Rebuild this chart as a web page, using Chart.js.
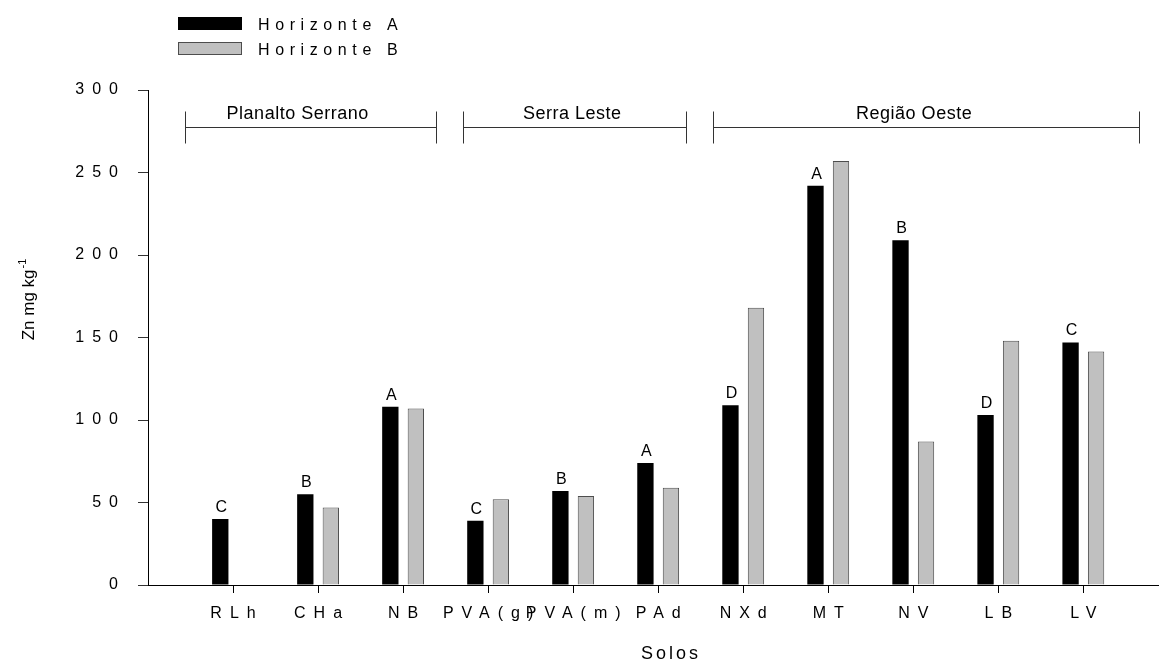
<!DOCTYPE html>
<html lang="pt">
<head>
<meta charset="UTF-8">
<title>Zn por solo e horizonte</title>
<style>
    body { margin: 0; background: #ffffff; overflow: hidden; }
    #wrap { width: 1159px; height: 665px; position: relative; }
</style>
</head>
<body>
<div id="wrap"><canvas id="chart"></canvas></div>

<script src="https://cdn.jsdelivr.net/npm/chart.js"></script>
<script>
// dados
const solos = ['RLh', 'CHa', 'NB', 'PVA(g)', 'PVA(m)', 'PAd', 'NXd', 'MT', 'NV', 'LB', 'LV'];
const horizonteA = [40, 55, 108, 39, 57, 74, 109, 242, 209, 103, 147];
const horizonteB = [null, 47, 107, 52, 54, 59, 168, 257, 87, 148, 141.5];
const letrasA = ['C', 'B', 'A', 'C', 'B', 'A', 'D', 'A', 'B', 'D', 'C'];
const yTicks = [0, 50, 100, 150, 200, 250, 300];
const regioes = ['Planalto Serrano', 'Serra Leste', 'Região Oeste'];

const FONT = '"Liberation Sans", Arial, Helvetica, sans-serif';

// chaves das regioes: [inicio, fim, centro do texto] em unidades do eixo x
const chaves = [[-0.56, 2.385, 0.76], [2.71, 5.33, 3.99], [5.65, 10.66, 8.01]];

const extras = {
    id: 'extras',
    beforeDraw(chart) {
        chart.ctx.letterSpacing = '8px';
    },
    afterDatasetsDraw(chart) {
        const ctx = chart.ctx;
        const meta = chart.getDatasetMeta(0);
        ctx.save();
        ctx.letterSpacing = '0px';
        ctx.font = '16px ' + FONT;
        ctx.fillStyle = '#000';
        ctx.textAlign = 'center';
        ctx.textBaseline = 'alphabetic';
        meta.data.forEach((bar, i) => {
            ctx.fillText(letrasA[i], bar.x + 1, bar.y - 7);
        });
        ctx.restore();
    },
    afterDraw(chart) {
        const ctx = chart.ctx;
        const xs = chart.scales.x;
        const ys = chart.scales.y;
        ctx.save();
        ctx.letterSpacing = '0px';

        // chaves das regioes
        const yLine = Math.round(ys.getPixelForValue(277.3)) + 0.5;
        ctx.strokeStyle = '#333';
        ctx.lineWidth = 1;
        ctx.font = '18px ' + FONT;
        ctx.fillStyle = '#000';
        ctx.textAlign = 'center';
        chaves.forEach((c, i) => {
            const x1 = Math.round(xs.getPixelForValue(c[0])) + 0.5;
            const x2 = Math.round(xs.getPixelForValue(c[1])) + 0.5;
            ctx.beginPath();
            ctx.moveTo(x1, yLine); ctx.lineTo(x2, yLine);
            ctx.moveTo(x1, yLine - 16); ctx.lineTo(x1, yLine + 16);
            ctx.moveTo(x2, yLine - 16); ctx.lineTo(x2, yLine + 16);
            ctx.stroke();
            ctx.letterSpacing = '0.5px';
            ctx.fillText(regioes[i], xs.getPixelForValue(c[2]), yLine - 9);
            ctx.letterSpacing = '0px';
        });

        // legenda
        ctx.textAlign = 'left';
        chart.data.datasets.forEach((ds, i) => {
            const y = 17 + i * 25;
            ctx.fillStyle = ds.backgroundColor;
            ctx.fillRect(178, y, 64, 13);
            if (ds.borderWidth) {
                ctx.strokeStyle = ds.borderColor;
                ctx.strokeRect(178.5, y + 0.5, 63, 12);
            }
            ctx.fillStyle = '#000';
            ctx.font = '16px ' + FONT;
            ctx.letterSpacing = '5.6px';
            ctx.fillText(ds.label, 258, y + 12.5);
            ctx.letterSpacing = '0px';
        });

        // titulo do eixo x
        ctx.font = '18px ' + FONT;
        ctx.letterSpacing = '3px';
        ctx.fillText('Solos', 641, 659);
        ctx.letterSpacing = '0px';

        // titulo do eixo y com expoente
        ctx.translate(34, 300);
        ctx.rotate(-Math.PI / 2);
        ctx.font = '17px ' + FONT;
        const main = 'Zn mg kg';
        const w = ctx.measureText(main).width;
        ctx.font = '11px ' + FONT;
        const sw = ctx.measureText('-1').width;
        const x0 = -(w + sw) / 2;
        ctx.font = '17px ' + FONT;
        ctx.fillText(main, x0, 0);
        ctx.font = '11px ' + FONT;
        ctx.fillText('-1', x0 + w + 1, -8);
        ctx.restore();
    }
};

const ctx = document.getElementById('chart').getContext('2d');

const chart = new Chart(ctx, {
    type: 'bar',
    data: {
        datasets: [{
            label: 'Horizonte A',
            data: horizonteA.map((v, i) => ({ x: i, y: v })),
            backgroundColor: '#000000',
            borderWidth: 0,
            categoryPercentage: 0.6,
            barPercentage: 0.64
        }, {
            label: 'Horizonte B',
            data: horizonteB.map((v, i) => ({ x: i, y: v })),
            backgroundColor: '#c0c0c0',
            borderColor: '#4d4d4d',
            borderWidth: 1,
            categoryPercentage: 0.6,
            barPercentage: 0.64
        }]
    },
    options: {
        responsive: true,
        maintainAspectRatio: false,
        animation: false,
        layout: { padding: { top: 90, left: 0, right: 0, bottom: 0 } },
        plugins: {
            legend: { display: false },
            tooltip: { enabled: false }
        },
        scales: {
            x: {
                type: 'linear',
                offset: false,
                min: -1,
                max: 10.89,
                afterBuildTicks(scale) {
                    scale.ticks = solos.map((s, i) => ({ value: i }));
                },
                afterFit(scale) { scale.height = 80; },
                border: { display: true, color: '#000', width: 1 },
                grid: { drawOnChartArea: false, offset: false, tickLength: 8, color: '#000' },
                ticks: {
                    autoSkip: false,
                    maxRotation: 0,
                    padding: 11,
                    labelOffset: 4,
                    color: '#000',
                    font: { size: 16, family: FONT },
                    callback: v => solos[v] ?? ''
                }
            },
            y: {
                min: 0,
                max: 300,
                afterBuildTicks(scale) {
                    scale.ticks = yTicks.map(v => ({ value: v }));
                },
                afterFit(scale) { scale.width = 148; },
                border: { display: true, color: '#000', width: 1 },
                grid: { drawOnChartArea: false, tickLength: 10, color: '#333' },
                ticks: {
                    padding: 12,
                    color: '#000',
                    font: { size: 16, family: FONT }
                }
            }
        }
    },
    plugins: [extras]
});
</script>
</body>
</html>
